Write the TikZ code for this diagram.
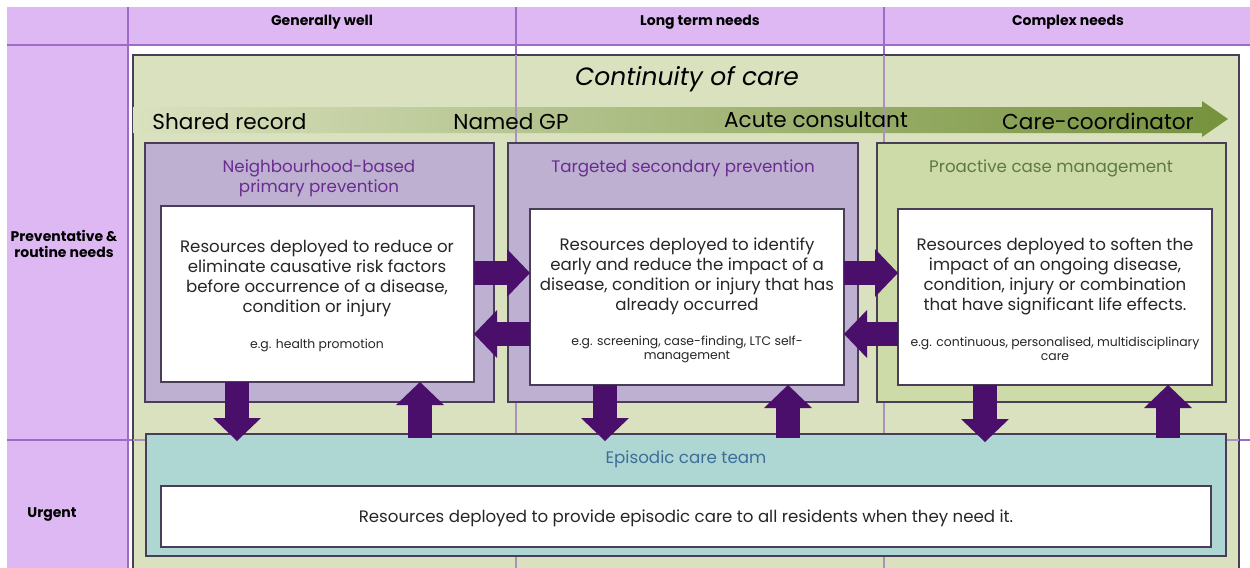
\documentclass[tikz,border=0pt]{standalone}
\usepackage{fontspec}
\setmainfont{Poppins}
\usetikzlibrary{arrows.meta,fit,calc}
\definecolor{lav}{HTML}{DDB8F2}
\definecolor{gridc}{HTML}{9E6CC6}
\definecolor{gridl}{HTML}{A993BE}
\definecolor{contg}{HTML}{D9E1BF}
\definecolor{bandm}{HTML}{BCC998}
\definecolor{bandg}{HTML}{76923C}
\definecolor{boxp}{HTML}{BEB0D1}
\definecolor{boxg}{HTML}{CDDBA9}
\definecolor{epiteal}{HTML}{AED6D3}
\definecolor{arrowp}{HTML}{4A0F6B}
\definecolor{ttlp}{HTML}{6A2C91}
\definecolor{ttlg}{HTML}{5E7A40}
\definecolor{ttlb}{HTML}{3C6E98}
\definecolor{txt}{HTML}{262626}
\definecolor{edge}{HTML}{4A3D57}
\begin{document}
\begin{tikzpicture}[x=0.5pt,y=-0.5pt,
  frame/.style={draw=edge, line width=0.6pt, inner sep=0pt, outer sep=0pt},
  zonep/.style={frame, fill=boxp},
  zoneg/.style={frame, fill=boxg},
  wbox/.style={frame, fill=white},
  hdr/.style={font=\fontsize{7}{8.2}\selectfont\bfseries, text=black, align=center, inner sep=0pt},
  ttl/.style={font=\fontsize{8.35}{10}\selectfont, align=center, inner sep=0pt},
  body/.style={font=\fontsize{8.3}{10}\selectfont, text=txt, align=center, inner sep=0pt},
  eg/.style={font=\fontsize{6.2}{7}\selectfont, text=txt, align=center, inner sep=0pt},
  band/.style={font=\fontsize{10.8}{12}\selectfont, text=black, inner sep=0pt},
  fat/.style={draw=arrowp, line width=12pt, -{Triangle[width=24pt,length=11.5pt,line width=0pt]}},
  grid/.style={draw=gridc, line width=0.8pt},
  gridin/.style={draw=gridl, line width=0.6pt}
]
\useasboundingbox (0,0) rectangle (1250,568);
% table header and first column
\fill[lav] (7,7) rectangle (1250,45);
\fill[lav] (7,45) rectangle (128,568);
\draw[grid] (7,45) -- (1250,45);
\draw[grid] (7,440) -- (1250,440);
\draw[grid] (128,7) -- (128,568);
\draw[grid] (516,7) -- (516,568);
\draw[grid] (884,7) -- (884,568);
% continuity of care
\node[frame, fill=contg, fit={(133,55)(1239,580)}] (cont) {};
% gradient band arrow
\shade[left color=contg, middle color=bandm, right color=bandg]
  (133,107) -- (1202,107) -- (1202,101) -- (1228,119) -- (1202,137) -- (1202,133) -- (133,133) -- cycle;
\draw[gridin] (516,55) -- (516,568);
\draw[gridin] (884,55) -- (884,568);
\draw[gridin] (133,440) -- (1239,440);
% zones
\node[zonep, fit={(145,143)(494,402)}] (b1) {};
\node[zonep, fit={(508,143)(858,402)}] (b2) {};
\node[zoneg, fit={(877,143)(1226,402)}] (b3) {};
\node[frame, fill=epiteal, fit={(146,434)(1226,556)}] (epi) {};
\node[wbox, fit={(161,206)(474,382)}] (w1) {};
\node[wbox, fit={(530,209)(844,385)}] (w2) {};
\node[wbox, fit={(898,209)(1212,385)}] (w3) {};
\node[wbox, fit={(161,486)(1211,547)}] (we) {};
% horizontal arrows
\draw[fat] (w1.east |- 0,273) -- (w2.west |- 0,273);
\draw[fat] (w2.west |- 0,334) -- (w1.east |- 0,334);
\draw[fat] (w2.east |- 0,273) -- (w3.west |- 0,273);
\draw[fat] (w3.west |- 0,334) -- (w2.east |- 0,334);
% vertical arrows
\draw[fat] (w1.south -| 237,0) -- ($(epi.north -| 237,0)+(0,7)$);
\draw[fat] ($(epi.north -| 420,0)+(0,4)$) -- (w1.south -| 420,0);
\draw[fat] (w2.south -| 605,0) -- ($(epi.north -| 605,0)+(0,7)$);
\draw[fat] ($(epi.north -| 788,0)+(0,4)$) -- (w2.south -| 788,0);
\draw[fat] (w3.south -| 985,0) -- ($(epi.north -| 985,0)+(0,8)$);
\draw[fat] ($(epi.north -| 1168,0)+(0,4)$) -- (w3.south -| 1168,0);
% headers
\node[hdr] (h1) at (322,22) {Generally well};
\node[hdr] (h2) at (700,22) {Long term needs};
\node[hdr] (h3) at (1068,22) {Complex needs};
\node[hdr] (r1) at (64,244) {Preventative \&\\routine needs};
\node[hdr] (r2) at (52,515) {Urgent};
% continuity title and band labels
\node[font=\fontsize{12.5}{14}\selectfont\itshape, text=black, inner sep=0pt] (ct) at (687,79) {Continuity of care};
\node[band, anchor=west] (s1) at (152,122) {Shared record};
\node[band] (s2) at (511,122) {Named GP};
\node[band] (s3) at (816,120) {Acute consultant};
\node[band] (s4) at (1098,121) {Care-coordinator};
% zone titles
\node[ttl, text=ttlp] (tt1) at (319,178) {Neighbourhood-based\\primary prevention};
\node[ttl, text=ttlp] (tt2) at (683,168) {Targeted secondary prevention};
\node[ttl, text=ttlg] (tt3) at (1051,168) {Proactive case management};
\node[ttl, text=ttlb] (tt4) at (686,459) {Episodic care team};
% box texts
\node[body] (t1) at (317,279) {Resources deployed to reduce or\\eliminate causative risk factors\\before occurrence of a disease,\\condition or injury};
\node[eg] (e1) at (317,345) {e.g. health promotion};
\node[body] (t2) at (687,276) {Resources deployed to identify\\early and reduce the impact of a\\disease, condition or injury that has\\already occurred};
\node[eg] (e2) at (687,349) {e.g. screening, case-finding, LTC self-\\management};
\node[body] (t3) at (1055,276) {Resources deployed to soften the\\impact of an ongoing disease,\\condition, injury or combination\\that have significant life effects.};
\node[eg] (e3) at (1055,349) {e.g. continuous, personalised, multidisciplinary\\care};
\node[body] (te) at (686,518) {Resources deployed to provide episodic care to all residents when they need it.};
\end{tikzpicture}
\end{document}
